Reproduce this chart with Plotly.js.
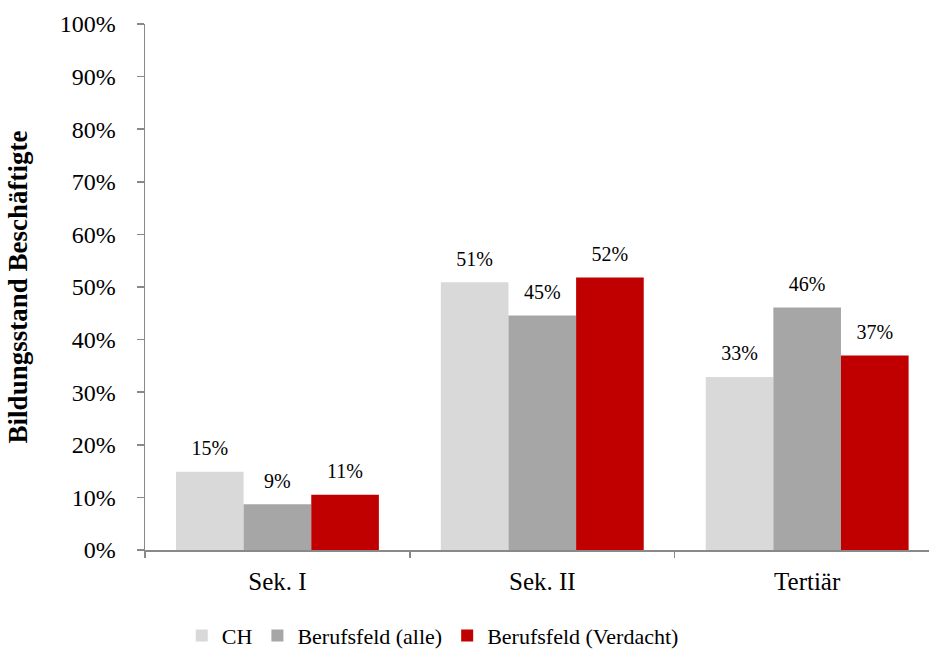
<!DOCTYPE html>
<html>
<head>
<meta charset="utf-8">
<script src="https://cdn.plot.ly/plotly-3.0.1.min.js"></script>
<style>html,body{margin:0;padding:0;background:#fff}#chart{width:929px;height:649px}</style>
</head>
<body>
<div id="chart"></div>
<script>
const categories = ["Sek. I", "Sek. II", "Tertiär"];
const seriesNames = ["CH", "Berufsfeld (alle)", "Berufsfeld (Verdacht)"];
const valuesCH = [0.149, 0.509, 0.329];
const valuesAlle = [0.087, 0.446, 0.461];
const valuesVerdacht = [0.105, 0.518, 0.370];
const colors = ["#D9D9D9", "#A6A6A6", "#C00000"];
const yTickVals = [0, 0.1, 0.2, 0.3, 0.4, 0.5, 0.6, 0.7, 0.8, 0.9, 1.0];

const FONT = "'Liberation Serif', 'Times New Roman', serif";
const allValues = [valuesCH, valuesAlle, valuesVerdacht];

const barTraces = allValues.map((vals, i) => ({
  type: "bar",
  name: seriesNames[i],
  x: categories,
  y: vals,
  marker: {color: colors[i], line: {width: 0}},
  hoverinfo: "x+y+name"
}));

const labelTraces = allValues.map((vals, i) => ({
  type: "scatter",
  mode: "markers+text",
  name: seriesNames[i] + " label",
  showlegend: false,
  x: categories,
  y: vals,
  marker: {size: 17, color: "rgba(0,0,0,0)"},
  texttemplate: "%{y:.0%}",
  textposition: "top center",
  cliponaxis: false,
  textfont: {family: FONT, size: 20, color: "#000"},
  hoverinfo: "skip"
}));

const layout = {
  width: 929, height: 649,
  margin: {l: 145, r: 0, t: 24, b: 99, autoexpand: false},
  paper_bgcolor: "#fff", plot_bgcolor: "#fff",
  font: {family: FONT, color: "#000"},
  barmode: "group",
  bargap: 0.234,
  bargroupgap: 0,
  scattermode: "group",
  scattergap: 0.234,
  showlegend: true,
  legend: {
    orientation: "h", x: 0.367, xanchor: "center", y: -0.163, yanchor: "middle",
    font: {family: FONT, size: 22, color: "#000"},
    itemwidth: 30
  },
  xaxis: {
    type: "category",
    range: [-0.5, 2.46],
    showline: true, linecolor: "#898989", linewidth: 1.5,
    ticks: "outside", tickson: "boundaries", ticklen: 6, tickcolor: "#898989", tickwidth: 1.5,
    tickfont: {family: FONT, size: 25, color: "#000"},
    ticklabelstandoff: 8,
    showgrid: false, zeroline: false, fixedrange: true, automargin: false
  },
  yaxis: {
    range: [0, 1],
    tickvals: yTickVals,
    tickformat: ".0%",
    showline: true, linecolor: "#898989", linewidth: 1.5,
    ticks: "outside", ticklen: 7, tickcolor: "#898989", tickwidth: 1.5,
    tickfont: {family: FONT, size: 24, color: "#000"},
    ticklabelstandoff: 16,
    showgrid: false, zeroline: false, fixedrange: true, automargin: false,
    title: {text: "<b>Bildungsstand Beschäftigte</b>", font: {family: FONT, size: 27, color: "#000"}, standoff: 24}
  }
};

Plotly.newPlot("chart", barTraces.concat(labelTraces), layout, {displayModeBar: false, staticPlot: true});
</script>
</body>
</html>
